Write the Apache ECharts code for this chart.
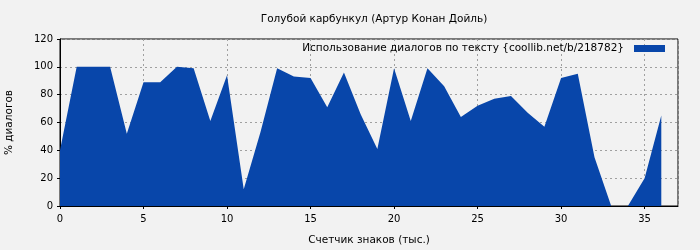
<!DOCTYPE html>
<html><head><meta charset="utf-8">
<script src="https://cdn.jsdelivr.net/npm/echarts@6/dist/echarts.min.js"></script>
<style>html,body{margin:0;padding:0;background:#f2f2f2;}#c{width:700px;height:250px;}</style>
</head><body><div id="c"></div>
<script>
const xValues = [0,1,2,3,4,5,6,7,8,9,10,11,12,13,14,15,16,17,18,19,20,21,22,23,24,25,26,27,28,29,30,31,32,33,34,35,36];
const dialogPct = [40,100,100,100,52,89,89,100,99,61,94,12,53,99,93,92,71,96,66,41,99,61,99,86,64,72,77,79,67,57,92,95,35,0,0,20,65];
const titleText = 'Голубой карбункул (Артур Конан Дойль)';
const seriesName = 'Использование диалогов по тексту {coollib.net/b/218782}';
const xName = 'Счетчик знаков (тыс.)';
const yName = '% диалогов';

const font = 'DejaVu Sans';
const chart = echarts.init(document.getElementById('c'), null, {renderer: 'canvas'});
chart.setOption({
  backgroundColor: '#f2f2f2',
  animation: false,
  textStyle: {fontFamily: font},
  title: {text: titleText, left: 369, textAlign: 'center', top: 9,
    textStyle: {fontFamily: font, fontSize: 10.5, fontWeight: 'normal', color: '#000'}},
  legend: {show: true, right: 30, top: 38, align: 'right', itemWidth: 31, itemHeight: 7, itemGap: 0,
    icon: 'rect', textStyle: {fontFamily: font, fontSize: 10.5, color: '#000', padding: [0, 5, 0, 0]},
    data: [{name: seriesName, icon: 'rect'}]},
  grid: {left: 60, right: 22, top: 39, bottom: 44, outerBoundsMode: 'none', containLabel: false,
    show: true, borderColor: '#000', borderWidth: 1, backgroundColor: 'transparent'},
  xAxis: {type: 'value', min: 0, max: 37, interval: 5,
    name: xName, nameLocation: 'middle', nameGap: 29,
    nameTextStyle: {fontFamily: font, fontSize: 10.5, color: '#000'},
    axisLine: {show: true, lineStyle: {color: '#000', width: 1}},
    axisTick: {show: true, length: 3, lineStyle: {color: '#000'}},
    axisLabel: {showMaxLabel: false, fontFamily: font, fontSize: 10, color: '#000', margin: 8},
    splitLine: {show: true, lineStyle: {color: '#a0a0a0', type: [2, 3], width: 1}}},
  yAxis: {type: 'value', min: 0, max: 120, interval: 20,
    name: yName, nameLocation: 'middle', nameGap: 45,
    nameTextStyle: {fontFamily: font, fontSize: 10.5, color: '#000'},
    axisLine: {show: true, lineStyle: {color: '#000', width: 1}},
    axisTick: {show: true, length: 3, lineStyle: {color: '#000'}},
    axisLabel: {fontFamily: font, fontSize: 10, color: '#000', margin: 7},
    splitLine: {show: true, lineStyle: {color: '#a0a0a0', type: [2, 3], width: 1}}},
  series: [{
    name: seriesName, type: 'line', symbol: 'none', smooth: false,
    data: xValues.map((x, i) => [x, dialogPct[i]]),
    itemStyle: {color: '#0846aa'},
    lineStyle: {width: 0, color: '#0846aa'},
    areaStyle: {color: '#0846aa', opacity: 1}
  }]
});
</script></body></html>
